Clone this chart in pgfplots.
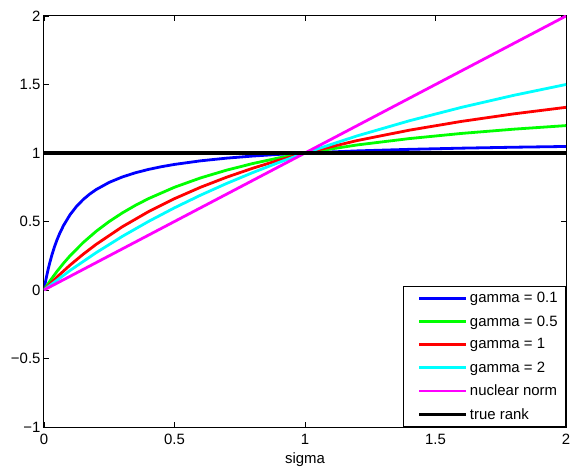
\documentclass[border=0pt]{standalone}
\usepackage{fontspec}
\setmainfont{Liberation Sans}
\usepackage{pgfplots}
\pgfplotsset{compat=1.18}
\definecolor{mblue}{rgb}{0,0,1}
\definecolor{mgreen}{rgb}{0,1,0}
\definecolor{mred}{rgb}{1,0,0}
\definecolor{mcyan}{rgb}{0,1,1}
\definecolor{mmagenta}{rgb}{1,0,1}
\begin{document}
\begin{tikzpicture}
\begin{axis}[
  scale only axis,
  width=522bp, height=411bp,
  xmin=0, xmax=2, ymin=-1, ymax=2,
  xtick={0,0.5,1,1.5,2},
  xticklabels={0,0.5,1,1.5,2},
  ytick={-1,-0.5,0,0.5,1,1.5,2},
  yticklabels={−1,−0.5,0,0.5,1,1.5,2},
  tick align=inside,
  major tick length=5bp,
  axis line style={line width=1bp},
  tick style={line width=0.8bp, black},
  tick label style={font=\fontsize{15}{18}\selectfont},
  xticklabel style={yshift=-4bp},
  yticklabel style={xshift=0bp},
  xlabel={sigma},
  xlabel style={font=\fontsize{15}{18}\selectfont, at={(axis description cs:0.5,0)}, anchor=base, yshift=-36bp},
  legend style={font=\fontsize{15}{18}\selectfont, draw=black, line width=0.8bp,
    at={(axis description cs:1,0)}, anchor=south east,
    row sep=7.2bp, inner xsep=6bp, inner ysep=4bp},
  legend cell align=left,
  legend image code/.code={\path (-8bp,0bp); \draw[#1] (0cm,0cm) -- (47bp,0cm);},
  clip=true,
]
\addplot[mblue, line width=2.8bp] coordinates {
(0,0) (0.0025,0.02683) (0.005,0.05238) (0.0075,0.07674) (0.01,0.1) (0.015,0.14348) (0.02,0.18333) (0.03,0.25385) (0.04,0.31429)
(0.05,0.36667) (0.06,0.4125) (0.075,0.47143) (0.1,0.55) (0.125,0.61111) (0.15,0.66) (0.175,0.7) (0.2,0.73333)
(0.25,0.78571) (0.3,0.825) (0.35,0.85556) (0.4,0.88) (0.45,0.9) (0.5,0.91667) (0.6,0.94286) (0.7,0.9625)
(0.8,0.97778) (0.9,0.99) (1.0,1) (1.2,1.01538) (1.4,1.02667) (1.6,1.03529)
(1.8,1.04211) (2.0,1.04762)};
\addlegendentry{gamma = 0.1}
\addplot[mgreen, line width=2.8bp] coordinates {
(0,0) (0.025,0.07143) (0.05,0.13636) (0.075,0.19565) (0.1,0.25) (0.15,0.34615) (0.2,0.42857) (0.25,0.5) (0.3,0.5625)
(0.35,0.61765) (0.4,0.66667) (0.5,0.75) (0.6,0.81818) (0.7,0.875) (0.8,0.92308) (0.9,0.96429)
(1.0,1) (1.2,1.05882) (1.4,1.10526) (1.6,1.14286) (1.8,1.17391) (2.0,1.2)};
\addlegendentry{gamma = 0.5}
\addplot[mred, line width=2.8bp] coordinates {
(0,0) (0.05,0.09524) (0.1,0.18182) (0.15,0.26087) (0.2,0.33333) (0.3,0.46154) (0.4,0.57143)
(0.5,0.66667) (0.6,0.75) (0.7,0.82353) (0.8,0.88889) (0.9,0.94737) (1.0,1)
(1.2,1.09091) (1.4,1.16667) (1.6,1.23077) (1.8,1.28571) (2.0,1.33333)};
\addlegendentry{gamma = 1}
\addplot[mcyan, line width=2.8bp] coordinates {
(0,0) (0.1,0.14286) (0.2,0.27273) (0.3,0.3913) (0.4,0.5) (0.5,0.6)
(0.6,0.69231) (0.7,0.77778) (0.8,0.85714) (0.9,0.93103) (1.0,1)
(1.2,1.125) (1.4,1.23529) (1.6,1.33333) (1.8,1.42105) (2.0,1.5)};
\addlegendentry{gamma = 2}
\addplot[mmagenta, line width=2.8bp] coordinates {(0,0) (2,2)};
\addlegendentry{nuclear norm}
\addplot[black, line width=3.8bp] coordinates {(0,1) (2,1)};
\addlegendentry{true rank}
\end{axis}
\pgfresetboundingbox
\path ([shift={(-44bp,-41bp)}]current axis.south west) rectangle ([shift={(7bp,16bp)}]current axis.north east);
\end{tikzpicture}
\end{document}
